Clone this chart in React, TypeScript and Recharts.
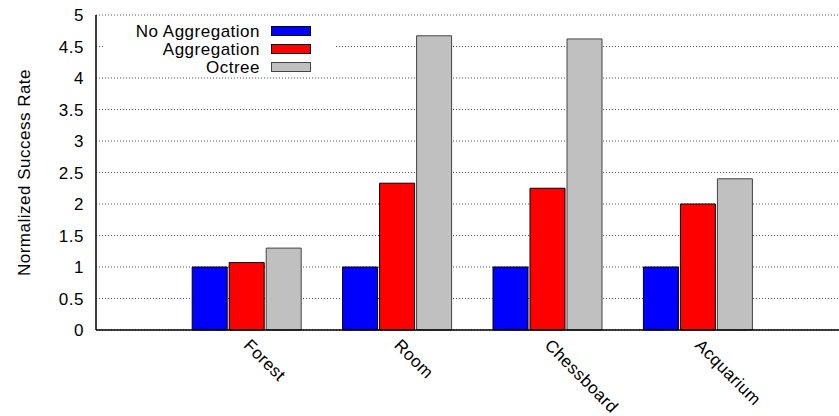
import React from "react";
import { BarChart, Bar, XAxis, YAxis, CartesianGrid, Legend } from "recharts";

const categories = ["Forest", "Room", "Chessboard", "Acquarium"];
const noAggregation = [1, 1, 1, 1];
const aggregation = [1.07, 2.33, 2.25, 2.0];
const octree = [1.3, 4.67, 4.62, 2.4];
const yTicks = [0, 0.5, 1, 1.5, 2, 2.5, 3, 3.5, 4, 4.5, 5];
const seriesNames = ["No Aggregation", "Aggregation", "Octree"];

const data = categories.map((c, i) => ({
  x: i,
  name: c,
  noAgg: noAggregation[i],
  agg: aggregation[i],
  oct: octree[i],
}));

const FONT = "'Liberation Sans', Arial, Helvetica, sans-serif";

const XTick = (props: any) => {
  const { x, y, payload } = props;
  const label = categories[payload.value] ?? "";
  return (
    <text
      x={x}
      y={y}
      dx={9}
      dy={14}
      transform={`rotate(45 ${x} ${y})`}
      textAnchor="start"
      fill="#000"
      fontSize={17}
      letterSpacing={0.4}
      fontFamily={FONT}
    >
      {label}
    </text>
  );
};

const swatches = [
  { fill: "#0000ff", stroke: "#000" },
  { fill: "#ff0000", stroke: "#000" },
  { fill: "#c0c0c0", stroke: "#444" },
];

const LegendBox = () => (
  <svg width={232} height={62} style={{ display: "block", overflow: "visible" }}>
    <rect x={0} y={0} width={230} height={56} fill="#fff" />
    {seriesNames.map((n, i) => (
      <g key={n}>
        <text
          x={156}
          y={13 + i * 18}
          dy="0.35em"
          textAnchor="end"
          fontSize={17}
          letterSpacing={0.5}
          fontFamily={FONT}
          fill="#000"
        >
          {n}
        </text>
        <rect
          x={167.5}
          y={8.5 + i * 18}
          width={39}
          height={9}
          fill={swatches[i].fill}
          stroke={swatches[i].stroke}
        />
      </g>
    ))}
  </svg>
);

export default function App() {
  return (
    <div style={{ position: "absolute", left: 0, top: 0, fontFamily: FONT }}>
      <BarChart
        width={839}
        height={416}
        data={data}
        margin={{ top: 15, right: 0, left: 0, bottom: 0 }}
        barGap={2}
        barSize={35}
      >
        <CartesianGrid vertical={false} stroke="#555" strokeDasharray="1 2" />
        <XAxis
          type="number"
          dataKey="x"
          domain={[-1, 3.94]}
          allowDataOverflow
          ticks={[0, 1, 2, 3]}
          interval={0}
          height={86}
          tickLine={false}
          tickSize={0}
          tickMargin={0}
          axisLine={{ stroke: "#000", strokeWidth: 1.5 }}
          tick={<XTick />}
        />
        <YAxis
          type="number"
          domain={[0, 5]}
          ticks={yTicks}
          interval={0}
          width={96}
          tickLine={false}
          tickSize={0}
          tickMargin={12}
          axisLine={{ stroke: "#000", strokeWidth: 1.5 }}
          tick={{ fill: "#000", fontSize: 17, letterSpacing: 0.5, fontFamily: FONT }}
          label={{
            value: "Normalized Success Rate",
            angle: -90,
            position: "insideLeft",
            offset: 24,
            style: { textAnchor: "middle", fontSize: 17, letterSpacing: 0.5, fontFamily: FONT, fill: "#000" },
          }}
        />
        <Legend
          layout="vertical"
          align="center"
          verticalAlign="middle"
          wrapperStyle={{ left: 104, top: 18, width: 232, height: 62 }}
          content={() => <LegendBox />}
        />
        <Bar dataKey="noAgg" name={seriesNames[0]} fill="#0000ff" stroke="#000" isAnimationActive={false} />
        <Bar dataKey="agg" name={seriesNames[1]} fill="#ff0000" stroke="#000" isAnimationActive={false} />
        <Bar dataKey="oct" name={seriesNames[2]} fill="#c0c0c0" stroke="#444" isAnimationActive={false} />
      </BarChart>
    </div>
  );
}
